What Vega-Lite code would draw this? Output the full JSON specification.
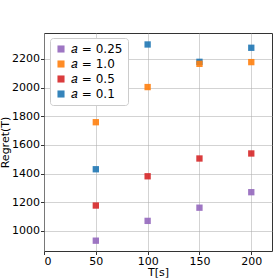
{
  "$schema": "https://vega.github.io/schema/vega-lite/v6.json",
  "width": 228,
  "height": 218,
  "autosize": {"type": "none"},
  "padding": {"left": 44, "top": 33, "right": 8, "bottom": 29},
  "background": "white",
  "config": {
    "font": "DejaVu Sans",
    "view": {"stroke": "#333333", "strokeWidth": 1},
    "axis": {
      "labelFont": "DejaVu Sans",
      "titleFont": "DejaVu Sans",
      "labelFontSize": 11,
      "titleFontSize": 11,
      "titleFontWeight": "normal",
      "labelColor": "#000000",
      "titleColor": "#000000",
      "gridColor": "#b0b0b0",
      "gridOpacity": 0.7,
      "gridWidth": 0.8,
      "tickColor": "#333333",
      "tickSize": 3.5,
      "labelPadding": 1,
      "domain": false
    }
  },
  "data": {
    "values": [
      {"T": 50, "regret": 1430, "a": "0.1"},
      {"T": 100, "regret": 2300, "a": "0.1"},
      {"T": 150, "regret": 2179, "a": "0.1"},
      {"T": 200, "regret": 2277, "a": "0.1"},
      {"T": 50, "regret": 1758, "a": "1.0"},
      {"T": 100, "regret": 2003, "a": "1.0"},
      {"T": 150, "regret": 2165, "a": "1.0"},
      {"T": 200, "regret": 2177, "a": "1.0"},
      {"T": 50, "regret": 1177, "a": "0.5"},
      {"T": 100, "regret": 1381, "a": "0.5"},
      {"T": 150, "regret": 1505, "a": "0.5"},
      {"T": 200, "regret": 1540, "a": "0.5"},
      {"T": 50, "regret": 932, "a": "0.25"},
      {"T": 100, "regret": 1070, "a": "0.25"},
      {"T": 150, "regret": 1162, "a": "0.25"},
      {"T": 200, "regret": 1270, "a": "0.25"}
    ]
  },
  "mark": {"type": "square", "size": 40, "opacity": 0.9, "filled": true},
  "encoding": {
    "x": {
      "field": "T", "type": "quantitative", "title": "T[s]",
      "scale": {"domain": [0, 220], "nice": false, "zero": false},
      "axis": {"values": [0, 50, 100, 150, 200], "titlePadding": 0}
    },
    "y": {
      "field": "regret", "type": "quantitative", "title": "Regret(T)",
      "scale": {"domain": [860, 2380], "nice": false, "zero": false},
      "axis": {"values": [1000, 1200, 1400, 1600, 1800, 2000, 2200], "format": "d", "titlePadding": 1}
    },
    "color": {
      "field": "a", "type": "nominal",
      "scale": {"domain": ["0.25", "1.0", "0.5", "0.1"], "range": ["#9467bd", "#ff7f0e", "#d62728", "#1f77b4"]},
      "legend": {
        "title": null,
        "orient": "none",
        "legendX": 6,
        "legendY": 5,
        "labelExpr": "'𝑎 = ' + datum.label",
        "labelFontSize": 12,
        "labelFont": "DejaVu Sans",
        "labelColor": "#000000",
        "symbolType": "square",
        "symbolSize": 50,
        "symbolOpacity": 0.9,
        "rowPadding": 3,
        "fillColor": "white",
        "strokeColor": "#cccccc",
        "padding": 5,
        "cornerRadius": 3
      }
    }
  }
}
